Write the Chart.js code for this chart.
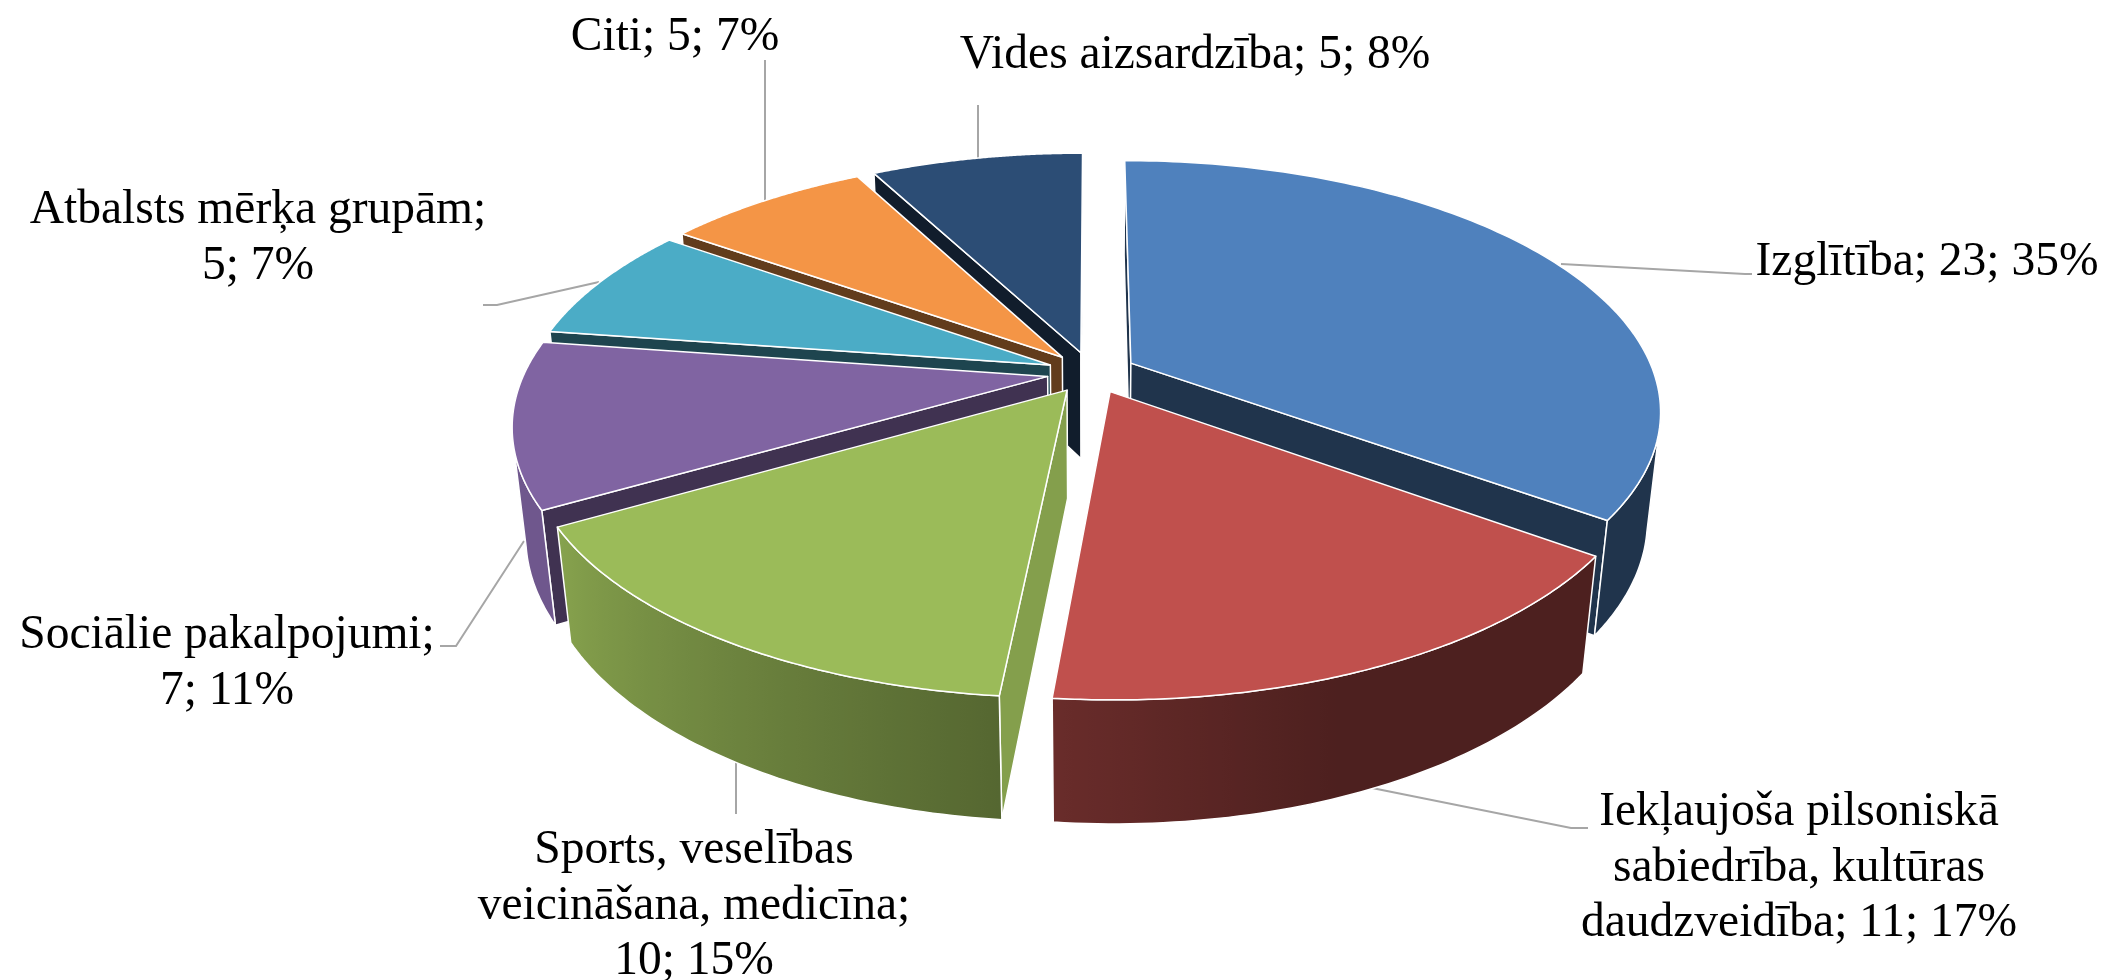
<!DOCTYPE html>
<html>
<head>
<meta charset="utf-8">
<title>Pie</title>
<script src="https://cdn.jsdelivr.net/npm/chart.js@4/dist/chart.umd.min.js"></script>
<style>
html, body { margin: 0; padding: 0; background: #fff; }
canvas { display: block; }
</style>
</head>
<body>
<canvas id="pie" width="2105" height="980"></canvas>
<script>
const categories = ["Izglītība", "Iekļaujoša pilsoniskā sabiedrība, kultūras daudzveidība", "Sports, veselības veicināšana, medicīna", "Sociālie pakalpojumi", "Atbalsts mērķa grupām", "Citi", "Vides aizsardzība"];
// estimated before rounding, the labels show 23, 11, 10, 7, 5, 5, 5 and 35%, 17%, 15%, 11%, 7%, 7%, 8%
const values = [23, 10.9, 10, 6.95, 4.9, 4.93, 5.12];

// how the labels wrap, same order as categories
const labelLines = [
    ["Izglītība; 23; 35%"],
    ["Iekļaujoša pilsoniskā", "sabiedrība, kultūras", "daudzveidība; 11; 17%"],
    ["Sports, veselības", "veicināšana, medicīna;", "10; 15%"],
    ["Sociālie pakalpojumi;", "7; 11%"],
    ["Atbalsts mērķa grupām;", "5; 7%"],
    ["Citi; 5; 7%"],
    ["Vides aizsardzība; 5; 8%"]
];

const topColors = ["#4F81BD", "#C0504D", "#9BBB59", "#8064A2", "#4BACC6", "#F49546", "#2C4D75"];
const faceShade = [0.4, 0.4, 0.85, 0.5, 0.4, 0.4, 0.38];

// label centres and line height
const labelPos = [[1927, 263], [1799, 813], [694, 851], [227, 636], [258, 211], [675, 38], [1195, 56]];
const lineGap = 55.5;
const labelFont = '47.5px "Liberation Serif"';

const leaders = [
    [[1561, 264], [1745, 274], [1752, 274]],
    [[1372, 788], [1571, 828], [1588, 828]],
    [[736, 763], [736, 814]],
    [[524, 541], [456, 646], [440, 646]],
    [[599, 282], [497, 305], [483, 305]],
    [[765, 205], [765, 60]],
    [[978, 159], [978, 105]]
];

// camera for the tilted pie, the plane is in units of the radius
const cam = { cx: 1091.5, cy: 372.5, f: 2500, d: 4.78, sin: 0.465, cos: 0.885, depth: 0.237 };

function project(x, y, z) {
    const dist = cam.d - y * cam.cos - z * cam.sin;
    return [cam.cx + cam.f * x / dist, cam.cy + cam.f * (y * cam.sin - z * cam.cos) / dist];
}

function shade(hex, k) {
    const n = parseInt(hex.slice(1), 16);
    const r = Math.round(((n >> 16) & 255) * k);
    const g = Math.round(((n >> 8) & 255) * k);
    const b = Math.round((n & 255) * k);
    return `rgb(${r},${g},${b})`;
}

function wallShade(deg) {
    if (deg < 70) return 0.4;
    if (deg > 150) return 0.87;
    return 0.4 + (deg - 70) * 0.47 / 80;
}

function fillPoly(ctx, pts, fill) {
    ctx.beginPath();
    pts.forEach((p, i) => i ? ctx.lineTo(p[0], p[1]) : ctx.moveTo(p[0], p[1]));
    ctx.closePath();
    ctx.fillStyle = fill;
    ctx.fill();
    ctx.strokeStyle = "#fff";
    ctx.lineWidth = 1.5;
    ctx.lineJoin = "round";
    ctx.stroke();
}

function drawSlice(ctx, el, i) {
    const color = el.options.backgroundColor;
    const s = el.startAngle, e = el.endAngle;
    const mid = (s + e) / 2;
    const off = el.options.offset / el.outerRadius;
    const ox = Math.cos(mid) * off, oy = Math.sin(mid) * off;
    const rim = (a, z) => project(ox + Math.cos(a), oy + Math.sin(a), z);
    const camY = cam.d * cam.cos;

    // radial cut faces, only the ones that look at the camera
    const cut = (a, nx, ny) => {
        if (nx * (0 - ox) + ny * (camY - oy) <= 0) return;
        fillPoly(ctx, [project(ox, oy, 0), rim(a, 0), rim(a, -cam.depth), project(ox, oy, -cam.depth)], shade(color, faceShade[i]));
    };
    cut(s, Math.sin(s), -Math.cos(s));
    cut(e, -Math.sin(e), Math.cos(e));

    // outer wall, front part of the rim
    const limit = Math.asin(1 / camY);
    const a0 = Math.max(s, limit), a1 = Math.min(e, Math.PI - limit);
    if (a1 > a0) {
        const upper = [], lower = [];
        const steps = 60;
        const x0 = rim(a0, 0)[0], x1 = rim(a1, 0)[0];
        const grad = ctx.createLinearGradient(x0, 0, x1, 0);
        for (let k = 0; k <= steps; k++) {
            const a = a0 + (a1 - a0) * k / steps;
            upper.push(rim(a, 0));
            lower.unshift(rim(a, -cam.depth));
            const t = (rim(a, 0)[0] - x0) / (x1 - x0);
            grad.addColorStop(Math.min(1, Math.max(0, t)), shade(color, wallShade(a * 180 / Math.PI)));
        }
        fillPoly(ctx, upper.concat(lower), grad);
    }

    // top
    const top = [project(ox, oy, 0)];
    for (let k = 0; k <= 120; k++) top.push(rim(s + (e - s) * k / 120, 0));
    fillPoly(ctx, top, color);
}

const pie3d = {
    id: "pie3d",
    beforeDatasetDraw(chart, args) {
        const ctx = chart.ctx;
        ctx.save();
        ctx.strokeStyle = "#A6A6A6";
        ctx.lineWidth = 2;
        leaders.forEach(line => {
            ctx.beginPath();
            line.forEach((p, i) => i ? ctx.lineTo(p[0], p[1]) : ctx.moveTo(p[0], p[1]));
            ctx.stroke();
        });
        // back slices first
        const arcs = args.meta.data.map((el, i) => ({ el, i }));
        arcs.sort((a, b) => Math.sin((a.el.startAngle + a.el.endAngle) / 2) - Math.sin((b.el.startAngle + b.el.endAngle) / 2));
        arcs.forEach(a => drawSlice(ctx, a.el, a.i));
        ctx.restore();
        return false;
    },
    afterDraw(chart) {
        const ctx = chart.ctx;
        ctx.save();
        ctx.font = labelFont;
        ctx.fillStyle = "#000";
        ctx.textAlign = "center";
        ctx.textBaseline = "middle";
        labelLines.forEach((lines, i) => {
            lines.forEach((text, j) => ctx.fillText(text, labelPos[i][0], labelPos[i][1] + j * lineGap));
        });
        ctx.restore();
    }
};

new Chart(document.getElementById("pie"), {
    type: "pie",
    data: {
        labels: categories,
        datasets: [{
            data: values,
            backgroundColor: topColors,
            offset: 40,
            borderWidth: 0
        }]
    },
    options: {
        responsive: false,
        animation: false,
        plugins: { legend: { display: false }, tooltip: { enabled: false } }
    },
    plugins: [pie3d]
});
</script>
</body>
</html>
